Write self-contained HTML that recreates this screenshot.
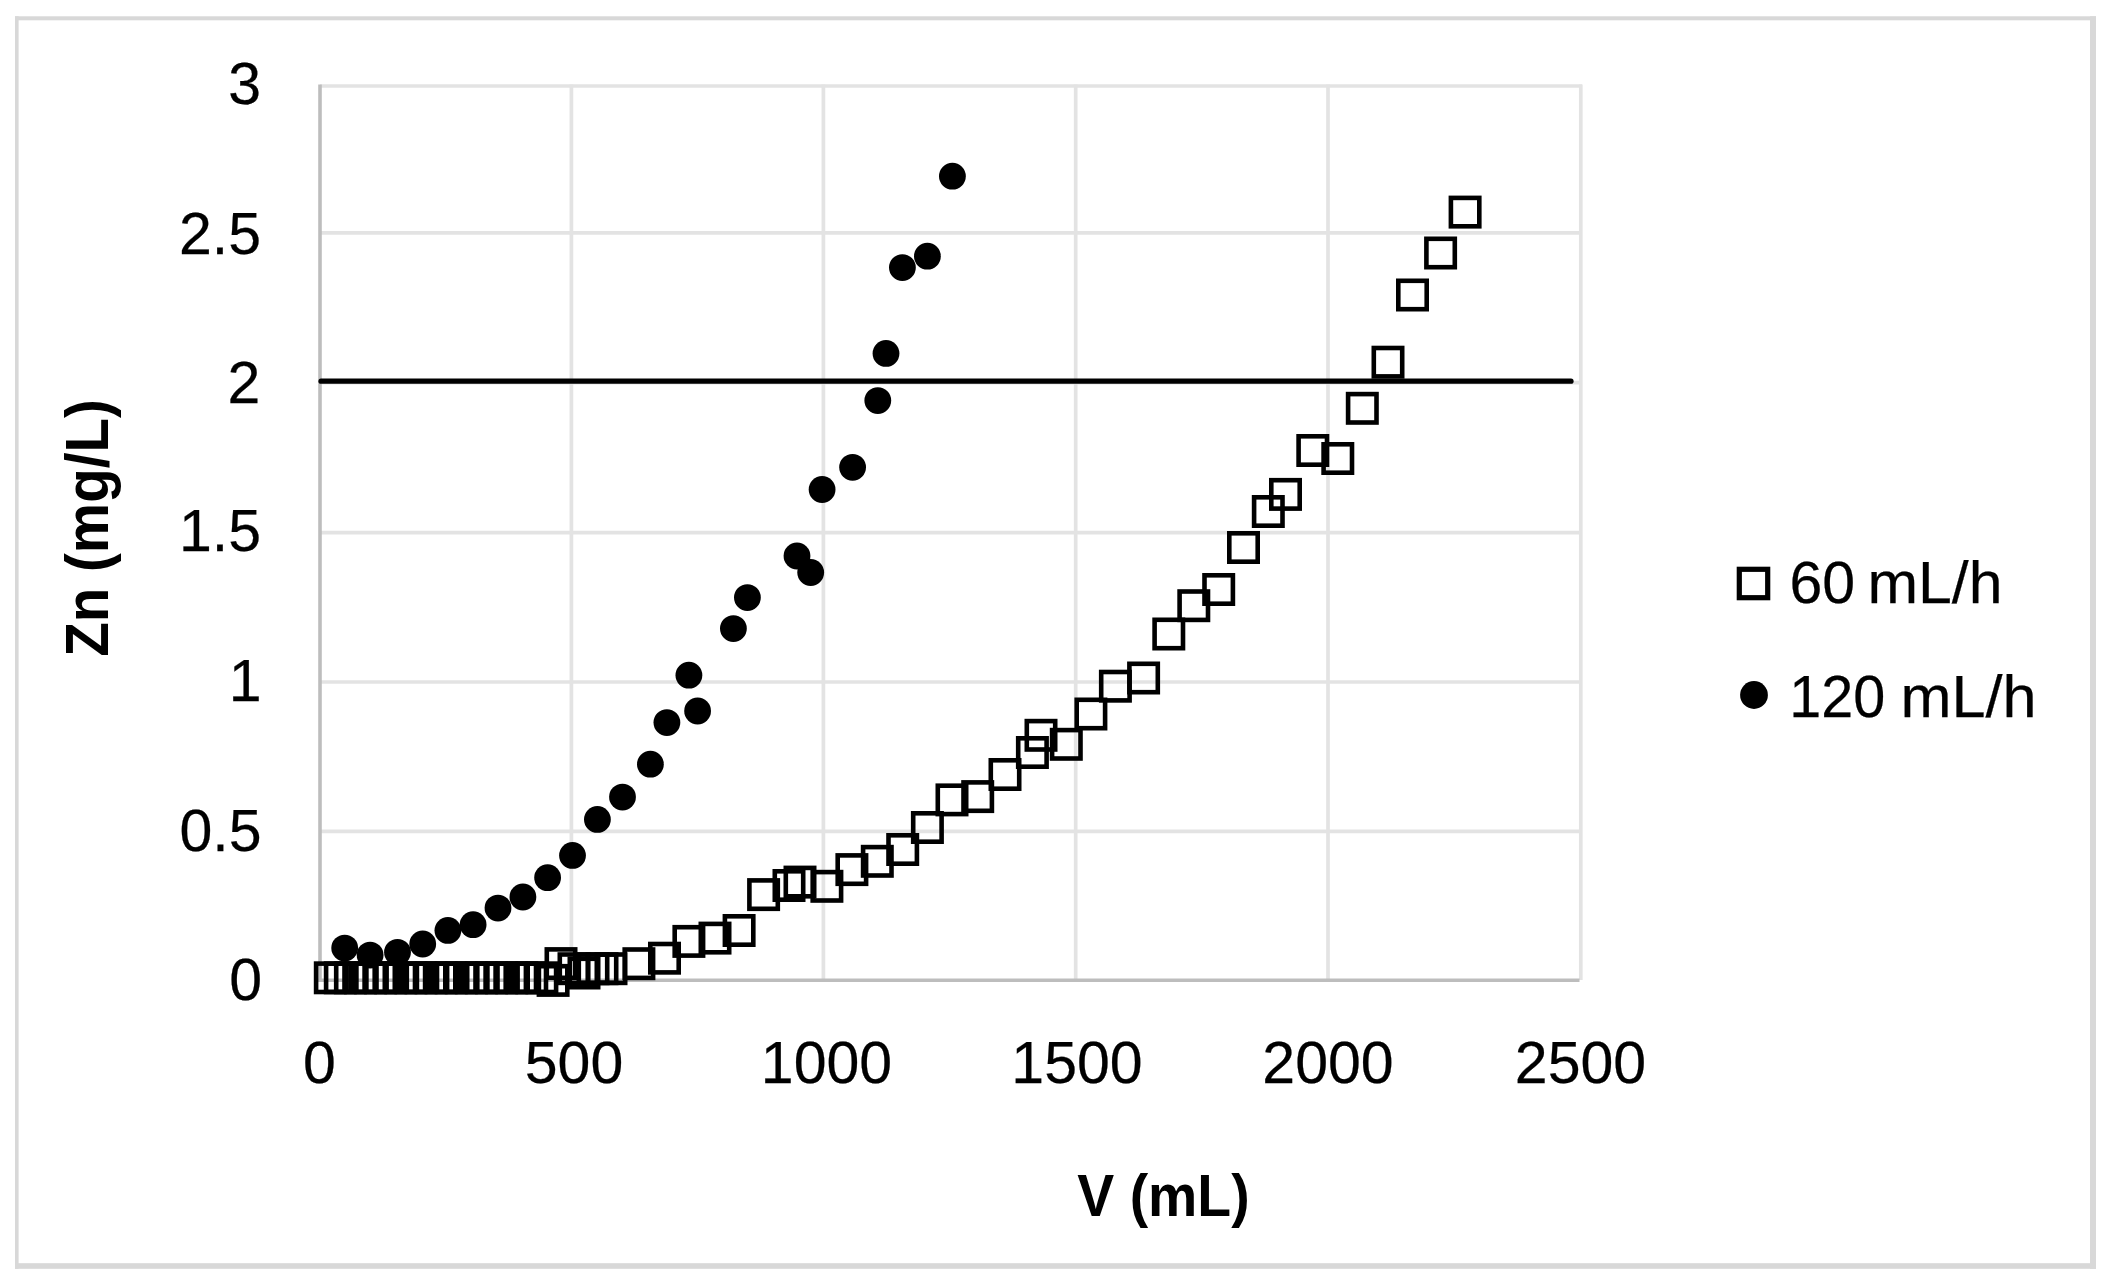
<!DOCTYPE html>
<html lang="en"><head><meta charset="utf-8"><title>Zn breakthrough curves</title>
<style>html,body{margin:0;padding:0;background:#fff}body{width:2110px;height:1284px;overflow:hidden}svg{display:block;filter:blur(.75px)}text{font-family:"Liberation Sans",sans-serif;fill:#000;stroke:#000;stroke-width:.25px}.b{font-weight:bold;stroke-width:0}.sq{fill:none;stroke:#000;stroke-width:4.6}.c{fill:#000}</style></head><body>
<svg width="2110" height="1284" viewBox="0 0 2110 1284">
<rect width="2110" height="1284" fill="#fff"/>
<g fill="#d8d8d8"><rect x="15" y="16.3" width="3.6" height="1252.5"/><rect x="15" y="16.3" width="2081" height="4"/><rect x="2090" y="16.3" width="6" height="1252.5"/><rect x="15" y="1263.2" width="2081" height="5.6"/></g>
<g stroke="#e3e3e3" stroke-width="3.7" fill="none">
<line x1="320" x2="1582" y1="86" y2="86"/>
<line x1="320" x2="1582" y1="232.8" y2="232.8"/>
<line x1="320" x2="1582" y1="382.7" y2="382.7"/>
<line x1="320" x2="1582" y1="532.6" y2="532.6"/>
<line x1="320" x2="1582" y1="682" y2="682"/>
<line x1="320" x2="1582" y1="831.4" y2="831.4"/>
<line x1="571.4" x2="571.4" y1="84.5" y2="980"/>
<line x1="823.4" x2="823.4" y1="84.5" y2="980"/>
<line x1="1075.7" x2="1075.7" y1="84.5" y2="980"/>
<line x1="1328" x2="1328" y1="84.5" y2="980"/>
<line x1="1580.8" x2="1580.8" y1="84.5" y2="980"/>
</g>
<g stroke="#bdbdbd" stroke-width="3.6" fill="none"><line x1="320" x2="320" y1="84.5" y2="982"/><line x1="318.2" x2="1579.5" y1="980.2" y2="980.2"/></g>
<line x1="321" x2="1571" y1="381.2" y2="381.2" stroke="#000" stroke-width="5.2" stroke-linecap="round"/>
<g>
<rect class="sq" x="316.1" y="963.6" width="28.4" height="28.4"/>
<rect class="sq" x="326.1" y="963.6" width="28.4" height="28.4"/>
<rect class="sq" x="336.2" y="963.6" width="28.4" height="28.4"/>
<rect class="sq" x="346.3" y="963.6" width="28.4" height="28.4"/>
<rect class="sq" x="356.4" y="963.6" width="28.4" height="28.4"/>
<rect class="sq" x="366.4" y="963.6" width="28.4" height="28.4"/>
<rect class="sq" x="376.5" y="963.6" width="28.4" height="28.4"/>
<rect class="sq" x="386.6" y="963.6" width="28.4" height="28.4"/>
<rect class="sq" x="396.7" y="963.6" width="28.4" height="28.4"/>
<rect class="sq" x="406.8" y="963.6" width="28.4" height="28.4"/>
<rect class="sq" x="416.9" y="963.6" width="28.4" height="28.4"/>
<rect class="sq" x="426.9" y="963.6" width="28.4" height="28.4"/>
<rect class="sq" x="437.0" y="963.6" width="28.4" height="28.4"/>
<rect class="sq" x="447.1" y="963.6" width="28.4" height="28.4"/>
<rect class="sq" x="457.2" y="963.6" width="28.4" height="28.4"/>
<rect class="sq" x="467.2" y="963.6" width="28.4" height="28.4"/>
<rect class="sq" x="477.3" y="963.6" width="28.4" height="28.4"/>
<rect class="sq" x="487.4" y="963.6" width="28.4" height="28.4"/>
<rect class="sq" x="497.5" y="963.6" width="28.4" height="28.4"/>
<rect class="sq" x="507.6" y="963.6" width="28.4" height="28.4"/>
<rect class="sq" x="517.6" y="963.6" width="28.4" height="28.4"/>
<rect class="sq" x="527.7" y="963.6" width="28.4" height="28.4"/>
<g fill="#000">
<rect x="348.1" y="964" width="6.4" height="27"/>
<rect x="398.3" y="964" width="6.4" height="27"/>
<rect x="428.5" y="964" width="6.4" height="27"/>
<rect x="458.6" y="964" width="6.4" height="27"/>
<rect x="508.9" y="964" width="6.4" height="27"/>
</g>
<rect class="sq" x="538.9" y="966.2" width="28.4" height="28.4"/>
<rect class="sq" x="546.8" y="949.4" width="28.4" height="28.4"/>
<rect class="sq" x="559.8" y="954.5" width="28.4" height="28.4"/>
<rect class="sq" x="569.8" y="958.8" width="28.4" height="28.4"/>
<rect class="sq" x="578.8" y="954.5" width="28.4" height="28.4"/>
<rect class="sq" x="587.8" y="954.5" width="28.4" height="28.4"/>
<rect class="sq" x="596.8" y="954.5" width="28.4" height="28.4"/>
<rect class="sq" x="624.7" y="949.5" width="28.4" height="28.4"/>
<rect class="sq" x="650.3" y="944.0" width="28.4" height="28.4"/>
<rect class="sq" x="674.7" y="927.2" width="28.4" height="28.4"/>
<rect class="sq" x="700.8" y="923.9" width="28.4" height="28.4"/>
<rect class="sq" x="724.9" y="916.3" width="28.4" height="28.4"/>
<rect class="sq" x="749.4" y="880.4" width="28.4" height="28.4"/>
<rect class="sq" x="774.8" y="871.3" width="28.4" height="28.4"/>
<rect class="sq" x="785.8" y="867.9" width="28.4" height="28.4"/>
<rect class="sq" x="812.7" y="872.1" width="28.4" height="28.4"/>
<rect class="sq" x="837.7" y="855.4" width="28.4" height="28.4"/>
<rect class="sq" x="863.1" y="847.1" width="28.4" height="28.4"/>
<rect class="sq" x="888.5" y="835.3" width="28.4" height="28.4"/>
<rect class="sq" x="913.2" y="813.3" width="28.4" height="28.4"/>
<rect class="sq" x="937.8" y="785.7" width="28.4" height="28.4"/>
<rect class="sq" x="963.5" y="782.4" width="28.4" height="28.4"/>
<rect class="sq" x="990.8" y="760.3" width="28.4" height="28.4"/>
<rect class="sq" x="1018.2" y="738.3" width="28.4" height="28.4"/>
<rect class="sq" x="1026.8" y="721.1" width="28.4" height="28.4"/>
<rect class="sq" x="1052.1" y="730.1" width="28.4" height="28.4"/>
<rect class="sq" x="1076.7" y="699.8" width="28.4" height="28.4"/>
<rect class="sq" x="1101.2" y="672.0" width="28.4" height="28.4"/>
<rect class="sq" x="1129.4" y="663.8" width="28.4" height="28.4"/>
<rect class="sq" x="1154.6" y="619.8" width="28.4" height="28.4"/>
<rect class="sq" x="1179.6" y="591.5" width="28.4" height="28.4"/>
<rect class="sq" x="1204.5" y="575.3" width="28.4" height="28.4"/>
<rect class="sq" x="1229.3" y="533.3" width="28.4" height="28.4"/>
<rect class="sq" x="1254.1" y="497.3" width="28.4" height="28.4"/>
<rect class="sq" x="1271.3" y="480.2" width="28.4" height="28.4"/>
<rect class="sq" x="1298.6" y="436.3" width="28.4" height="28.4"/>
<rect class="sq" x="1323.6" y="444.3" width="28.4" height="28.4"/>
<rect class="sq" x="1348.1" y="394.1" width="28.4" height="28.4"/>
<rect class="sq" x="1373.8" y="348.0" width="28.4" height="28.4"/>
<rect class="sq" x="1398.3" y="280.8" width="28.4" height="28.4"/>
<rect class="sq" x="1426.4" y="238.8" width="28.4" height="28.4"/>
<rect class="sq" x="1450.9" y="197.9" width="28.4" height="28.4"/>
</g>
<g class="c">
<circle cx="344.7" cy="948.1" r="13.4"/>
<circle cx="370.1" cy="955.1" r="13.4"/>
<circle cx="397.5" cy="952.3" r="13.4"/>
<circle cx="422.7" cy="944" r="13.4"/>
<circle cx="447.9" cy="930.4" r="13.4"/>
<circle cx="473.1" cy="924.7" r="13.4"/>
<circle cx="498" cy="908.1" r="13.4"/>
<circle cx="522.9" cy="897" r="13.4"/>
<circle cx="547.6" cy="877.7" r="13.4"/>
<circle cx="572.5" cy="855.4" r="13.4"/>
<circle cx="597.4" cy="819.4" r="13.4"/>
<circle cx="622.5" cy="797.1" r="13.4"/>
<circle cx="650.4" cy="764.2" r="13.4"/>
<circle cx="666.9" cy="722.6" r="13.4"/>
<circle cx="688.9" cy="675.2" r="13.4"/>
<circle cx="697.6" cy="711" r="13.4"/>
<circle cx="733.4" cy="628.6" r="13.4"/>
<circle cx="747.4" cy="597.6" r="13.4"/>
<circle cx="797" cy="556" r="13.4"/>
<circle cx="810.7" cy="572.5" r="13.4"/>
<circle cx="822.1" cy="489.5" r="13.4"/>
<circle cx="852.6" cy="467.3" r="13.4"/>
<circle cx="877.8" cy="400.6" r="13.4"/>
<circle cx="886" cy="353.4" r="13.4"/>
<circle cx="902.4" cy="267.6" r="13.4"/>
<circle cx="927.4" cy="256.2" r="13.4"/>
<circle cx="952.4" cy="176.2" r="13.4"/>
</g>
<g font-size="59" text-anchor="end">
<text x="261" y="104">3</text>
<text x="261" y="253.5">2.5</text>
<text x="260.3" y="403">2</text>
<text x="261" y="551">1.5</text>
<text x="261.5" y="701">1</text>
<text x="261.5" y="851">0.5</text>
<text x="262" y="1000">0</text>
</g>
<g font-size="59" text-anchor="middle">
<text x="319.3" y="1083.2">0</text>
<text x="574" y="1083.2">500</text>
<text x="826.5" y="1083.2">1000</text>
<text x="1077" y="1083.2">1500</text>
<text x="1328" y="1083.2">2000</text>
<text x="1580.5" y="1083.2">2500</text>
</g>
<text class="b" font-size="59" text-anchor="middle" x="1163.5" y="1216.2" textLength="172.3" lengthAdjust="spacingAndGlyphs">V (mL)</text>
<text class="b" font-size="60.5" text-anchor="middle" transform="translate(107.6,528) rotate(-90)" textLength="257.5" lengthAdjust="spacingAndGlyphs">Zn (mg/L)</text>
<rect class="sq" x="1739.3" y="569.3" width="28.4" height="28.4" style="stroke-width:5.2"/>
<circle class="c" cx="1754" cy="695" r="13.9"/>
<text font-size="59" x="1789.5" y="602.8">60</text>
<text font-size="59" x="1867.5" y="602.8" textLength="135" lengthAdjust="spacingAndGlyphs">mL/h</text>
<text font-size="59" x="1789.2" y="717" textLength="96" lengthAdjust="spacingAndGlyphs">120</text>
<text font-size="59" x="1900.5" y="717" textLength="136" lengthAdjust="spacingAndGlyphs">mL/h</text>
</svg></body></html>
